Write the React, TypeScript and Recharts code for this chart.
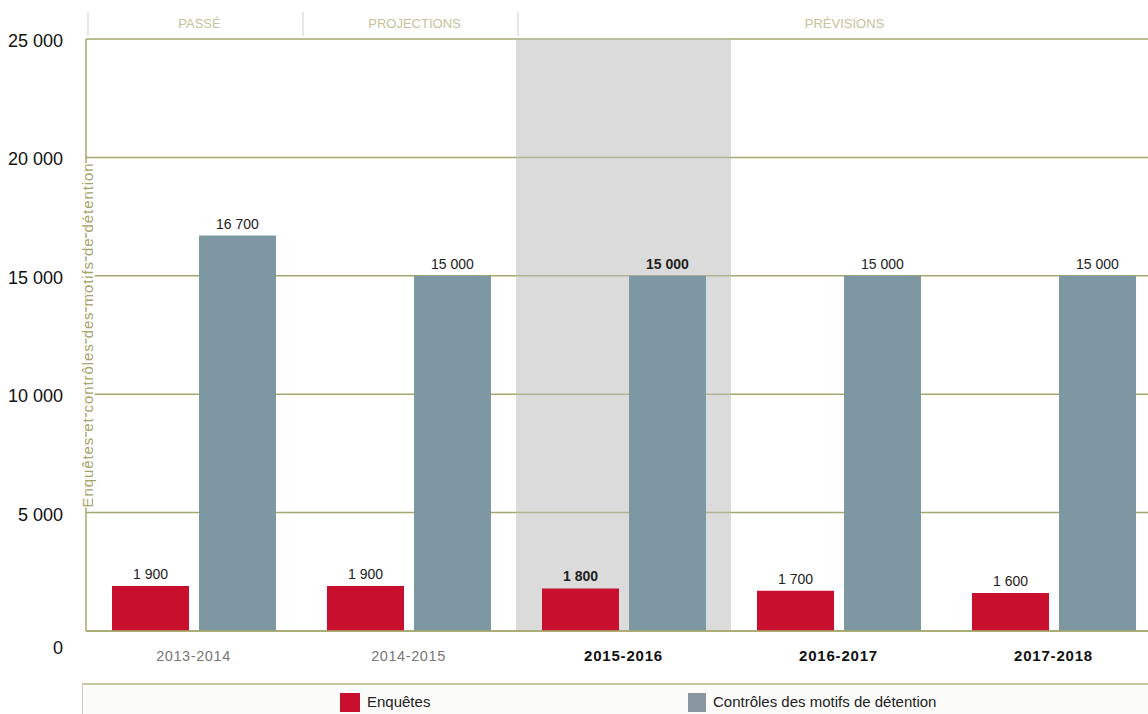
import React from "react";
import {
  BarChart,
  Bar,
  XAxis,
  YAxis,
  CartesianGrid,
  ReferenceArea,
  LabelList,
  Legend
} from "recharts";

const periods = ["2013-2014", "2014-2015", "2015-2016", "2016-2017", "2017-2018"];
const enquetes = [1900, 1900, 1800, 1700, 1600];
const controles = [16700, 15000, 15000, 15000, 15000];
const headerLabels = ["PASSÉ", "PROJECTIONS", "", "PRÉVISIONS", ""];
const headerSeparators = [true, true, true, false, false];
const boldPeriods = ["2015-2016", "2016-2017", "2017-2018"];
const yTicks = [0, 5000, 10000, 15000, 20000, 25000];

const data = periods.map((p, i) => ({
  name: p,
  Enquetes: enquetes[i],
  Controles: controles[i],
  header: headerLabels[i]
}));

const OLIVE = "#a5a86c";
const RED = "#c8102e";
const GREY = "#7d97a3";
const FONT = "Liberation Sans, Arial, sans-serif";

const fmt = (v: number) => String(v).replace(/\B(?=(\d{3})+(?!\d))/g, " ");

function TopTick(props: any) {
  const { x, payload, index } = props;
  const half = payload.offset || 0;
  return (
    <g>
      {headerSeparators[index] && (
        <line x1={x - half + 2} x2={x - half + 2} y1={12} y2={36} stroke="#cfcfcf" />
      )}
      <text x={x + 6} y={28} textAnchor="middle" fontSize={13} fill="#c4c39c" fontFamily={FONT}>
        {headerLabels[index]}
      </text>
    </g>
  );
}

function BottomTick(props: any) {
  const { x, y, payload } = props;
  const bold = boldPeriods.includes(payload.value);
  return (
    <text
      x={x}
      y={y + 22}
      textAnchor="middle"
      fontSize={bold ? 15 : 14.5}
      letterSpacing={bold ? 0.8 : 0.6}
      fontWeight={bold ? 700 : 400}
      fill={bold ? "#111" : "#777"}
      fontFamily={FONT}
    >
      {payload.value}
    </text>
  );
}

function LeftTick(props: any) {
  const { x, y, payload } = props;
  const extra = payload.value === 0 ? 19 : 4;
  return (
    <text x={x - 15} y={y + extra + 4} textAnchor="end" fontSize={18} fill="#111" fontFamily={FONT}>
      {fmt(payload.value)}
    </text>
  );
}

function AxisTitle(props: any) {
  const { viewBox } = props;
  const cx = viewBox.x + viewBox.width + 1;
  const cy = viewBox.y + viewBox.height / 2;
  return (
    <text
      x={cx}
      y={cy}
      transform={`rotate(-90 ${cx} ${cy})`}
      textAnchor="middle"
      dominantBaseline="central"
      fontSize={15}
      letterSpacing={0.9}
      fill="#a7a36c"
      stroke="#ffffff"
      strokeWidth={3}
      paintOrder="stroke"
      fontFamily={FONT}
    >
      Enquêtes et contrôles des motifs de détention
    </text>
  );
}

function ValueLabel(props: any) {
  const { x, y, width, value, index } = props;
  return (
    <text
      x={x + width / 2}
      y={y - 7}
      textAnchor="middle"
      fontSize={14}
      fontWeight={index === 2 ? 700 : 400}
      fill="#222"
      fontFamily={FONT}
    >
      {fmt(value)}
    </text>
  );
}

function LegendBox() {
  return (
    <div style={{ position: "relative", width: 1161, height: 43 }}>
      <div
        style={{
          position: "absolute",
          left: 82,
          top: 12,
          right: 0,
          bottom: 0,
          borderTop: "2px solid #c7c7a4",
          borderLeft: "1px solid #cfcfcf",
          background: "#fbfbfa"
        }}
      />
      <div style={{ position: "absolute", left: 340, top: 22, width: 20, height: 19, background: RED }} />
      <div style={{ position: "absolute", left: 367, top: 22, fontSize: 15, fontFamily: FONT, color: "#222" }}>
        Enquêtes
      </div>
      <div style={{ position: "absolute", left: 688, top: 22, width: 18, height: 19, background: "#8a97a2" }} />
      <div style={{ position: "absolute", left: 713, top: 22, fontSize: 15, fontFamily: FONT, color: "#222" }}>
        Contrôles des motifs de détention
      </div>
    </div>
  );
}

export default function App() {
  return (
    <div style={{ position: "absolute", left: 0, top: 0, width: 1148, height: 714, overflow: "hidden", background: "#fff" }}>
      <BarChart
        width={1161}
        height={714}
        data={data}
        margin={{ top: 0, right: 0, left: 0, bottom: 0 }}
        barCategoryGap={26}
        barGap={10}
      >
        <CartesianGrid vertical={false} stroke={OLIVE} strokeWidth={1.5} />
        <ReferenceArea x1="2015-2016" x2="2015-2016" y1={0} y2={25000} fill="#bdbdbd" fillOpacity={0.55} stroke="none" />
        <XAxis
          xAxisId="top"
          orientation="top"
          dataKey="name"
          height={39}
          axisLine={false}
          tickLine={false}
          tick={<TopTick />}
          interval={0}
        />
        <XAxis
          dataKey="name"
          height={40}
          axisLine={{ stroke: OLIVE, strokeWidth: 1.5 }}
          tickLine={false}
          tick={<BottomTick />}
          interval={0}
        />
        <YAxis
          width={86}
          domain={[0, 25000]}
          ticks={yTicks}
          axisLine={{ stroke: OLIVE, strokeWidth: 1.5 }}
          tickLine={false}
          tick={<LeftTick />}
          label={<AxisTitle />}
        />
        <Legend verticalAlign="bottom" height={43} wrapperStyle={{ left: 0, width: 1161 }} content={() => <LegendBox />} />
        <Bar dataKey="Enquetes" fill={RED} isAnimationActive={false}>
          <LabelList dataKey="Enquetes" content={<ValueLabel />} />
        </Bar>
        <Bar dataKey="Controles" fill={GREY} isAnimationActive={false}>
          <LabelList dataKey="Controles" content={<ValueLabel />} />
        </Bar>
      </BarChart>
    </div>
  );
}
